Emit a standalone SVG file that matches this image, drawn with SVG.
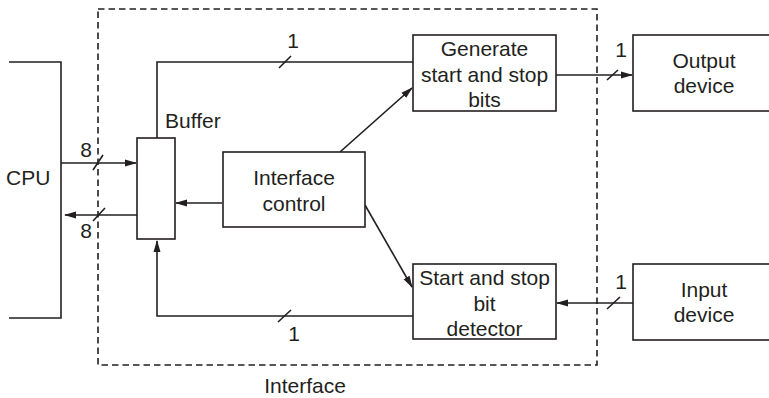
<svg xmlns="http://www.w3.org/2000/svg" width="769" height="398" viewBox="0 0 769 398">
<defs>
<marker id="ah" markerWidth="12" markerHeight="8" refX="11" refY="4" orient="auto" markerUnits="userSpaceOnUse">
<path d="M0,0.5 L12,4 L0,7.5 Z" fill="#231f20"/>
</marker>
<style>
.box{fill:#fff;stroke:#231f20;stroke-width:1.6}
.ln{fill:none;stroke:#231f20;stroke-width:1.6}
.arr{fill:none;stroke:#231f20;stroke-width:1.6;marker-end:url(#ah)}
.dash{fill:none;stroke:#231f20;stroke-width:1.6;stroke-dasharray:6.5,4}
text{font-family:"Liberation Sans",Arial,sans-serif;font-size:21px;fill:#231f20}
.c{text-anchor:middle}
</style>
</defs>
<rect width="769" height="398" fill="#fff"/>
<g id="interface-boundary">
<rect class="dash" x="98" y="9" width="499" height="356"/>
<text class="c" x="305" y="393">Interface</text>
</g>
<g id="cpu">
<path class="ln" d="M9,62 H61 V318 H9"/>
<text x="6" y="185">CPU</text>
</g>
<g id="connectors">
<path class="arr" d="M61,163 H136"/>
<path class="ln" d="M93,170 L103,155"/>
<text class="c" x="86" y="157">8</text>
<path class="arr" d="M137,215 H65"/>
<path class="ln" d="M93,221 L105,208"/>
<text class="c" x="86" y="238">8</text>
<path class="ln" d="M157,138 V62 H413"/>
<path class="ln" d="M279,68 L291,56"/>
<text class="c" x="293" y="48">1</text>
<path class="arr" d="M556,75 H632"/>
<path class="ln" d="M607,80 L618,70"/>
<text class="c" x="621" y="57">1</text>
<path class="arr" d="M633,303 H557"/>
<path class="ln" d="M607,309 L620,297"/>
<text class="c" x="621" y="289">1</text>
<path class="arr" d="M413,316 H157 V241"/>
<path class="ln" d="M278,322 L291,310"/>
<text class="c" x="294" y="341">1</text>
<path class="arr" d="M222,203 H176"/>
<path class="arr" d="M340,152 L412,88"/>
<path class="arr" d="M365,205 L412,287"/>
</g>
<g id="buffer">
<rect class="box" x="137" y="138" width="38" height="101"/>
<text x="165" y="128">Buffer</text>
</g>
<g id="interface-control">
<rect class="box" x="223" y="152" width="142" height="75"/>
<text class="c" x="294" y="185">Interface</text>
<text class="c" x="294" y="211">control</text>
</g>
<g id="generate">
<rect class="box" x="413" y="35" width="143" height="76"/>
<text class="c" x="484.5" y="56">Generate</text>
<text class="c" x="484.5" y="82">start and stop</text>
<text class="c" x="484.5" y="107">bits</text>
</g>
<g id="detector">
<rect class="box" x="413" y="264" width="143" height="75"/>
<text class="c" x="484.5" y="285">Start and stop</text>
<text class="c" x="484.5" y="311">bit</text>
<text class="c" x="484.5" y="336">detector</text>
</g>
<g id="output-device">
<rect class="box" x="633" y="35" width="145" height="76"/>
<text class="c" x="704" y="68">Output</text>
<text class="c" x="704" y="93">device</text>
</g>
<g id="input-device">
<rect class="box" x="633" y="264" width="145" height="76"/>
<text class="c" x="704" y="297">Input</text>
<text class="c" x="704" y="322">device</text>
</g>
</svg>
